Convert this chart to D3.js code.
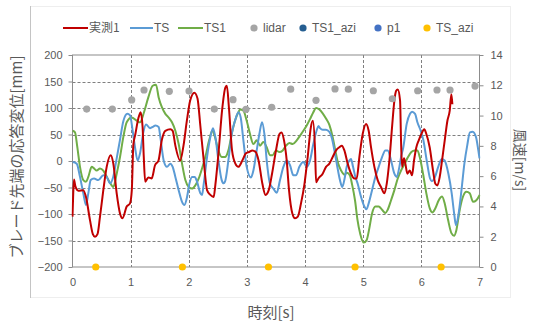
<!DOCTYPE html>
<html><head><meta charset="utf-8">
<script src="https://cdn.jsdelivr.net/npm/d3@7"></script>
<style>body{margin:0;background:#fff}svg{display:block}</style>
</head><body><svg id="c" width="533" height="323"></svg>
<script>
// ---- data ----
const seriesNames = ["実測1","TS","TS1","lidar","TS1_azi","p1","TS_azi"];
const xTicks = [0,1,2,3,4,5,6,7];
const yLeftTicks = [-200,-150,-100,-50,0,50,100,150,200];
const yRightTicks = [0,2,4,6,8,10,12,14];

const measT = [0,0.01,0.025,0.05,0.1,0.186,0.232,0.3,0.35,0.387,0.43,0.473,0.53,0.588,0.657,0.702,0.76,0.817,0.86,0.932,0.989,1.02,1.046,1.08,1.132,1.172,1.205,1.225,1.25,1.304,1.362,1.419,1.479,1.537,1.597,1.683,1.723,1.769,1.852,1.909,1.967,2.024,2.096,2.15,2.199,2.257,2.314,2.371,2.428,2.457,2.515,2.572,2.63,2.655,2.69,2.744,2.801,2.853,2.921,2.979,3.036,3.093,3.151,3.2,3.266,3.32,3.375,3.432,3.5,3.56,3.595,3.638,3.684,3.724,3.781,3.827,3.875,3.93,3.99,4.045,4.1,4.135,4.172,4.19,4.229,4.303,4.36,4.418,4.475,4.533,4.59,4.633,4.676,4.733,4.791,4.848,4.888,4.934,4.991,5.049,5.094,5.134,5.192,5.249,5.306,5.364,5.404,5.45,5.496,5.536,5.565,5.594,5.634,5.65,5.668,5.702,5.725,5.76,5.8,5.84,5.874,5.914,5.955,6.0,6.05,6.086,6.143,6.201,6.241,6.276,6.316,6.356,6.402,6.448,6.488,6.516,6.534];
const measV = [-105,-70,-35,-48,-56,-55,-68,-111,-138,-143,-138,-105,-55,-11,11,-5,-61,-99,-108,-86,-80,-55,30,50,80,92,65,10,-39,-31,-33,-8,1,40,57,60,57,29,1,29,76,114,129,118,66,1,-55,-64,-68,-45,20,95,139,142,101,20,-5,-11,1,14,17,20,17,1,-43,-64,-55,-24,20,51,54,39,1,-55,-99,-108,-105,-80,-43,7.5,64,76,20,-40,-33,-24,-11,-5,7.5,20,26,29,20,-5,-24,-33,-33,7.5,51,70,57,26,-11,-36,-49,-61,-43,1,64,114,132,135,114,40,-11,5,-5,-24,-18,-27,1,26,39,51,60,51,26,-18,-43,-46,-30,1,39,76,95,126,107];

const tsT = [0.003,0.072,0.129,0.186,0.232,0.272,0.313,0.37,0.444,0.53,0.588,0.645,0.7,0.76,0.817,0.874,0.943,0.989,1.035,1.075,1.12,1.161,1.218,1.264,1.333,1.39,1.425,1.482,1.511,1.568,1.625,1.683,1.723,1.769,1.826,1.884,1.924,1.97,2.01,2.056,2.102,2.142,2.199,2.228,2.257,2.314,2.371,2.416,2.457,2.51,2.566,2.6,2.623,2.681,2.738,2.795,2.855,2.893,2.939,2.996,3.07,3.111,3.168,3.214,3.26,3.3,3.34,3.397,3.455,3.512,3.569,3.627,3.684,3.741,3.799,3.844,3.902,3.971,4.028,4.085,4.142,4.2,4.23,4.257,4.303,4.36,4.418,4.464,4.504,4.55,4.6,4.64,4.68,4.716,4.762,4.79,4.825,4.865,4.905,4.963,5.02,5.055,5.094,5.152,5.209,5.266,5.324,5.381,5.421,5.479,5.536,5.576,5.622,5.651,5.69,5.748,5.805,5.84,5.892,5.932,5.989,6.035,6.092,6.15,6.18,6.235,6.29,6.35,6.4,6.465,6.522,6.565,6.595,6.64,6.69,6.74,6.79,6.835,6.883,6.94,6.98,7.0];
const tsV = [-2,-5,-30,-61,-83,-61,-36,-33,-36,-27,-30,-42,-30,5,40,75,89,86,57,26,1,14,54,69,62,65,67,64,45,1,-11,-5,-11,-30,-55,-77,-83,-68,-43,-30,-30,-39,-61,-64,-43,7.5,45,62,45,1,-36,-42,-39,1,51,76,92,82,39,-11,-31,-18,20,51,73,51,1,-43,-52,-60,-36,-11,1,-8,-27,-27,-11,-2,-11,1,32,58,66,62,59,59,55,42,20,-8,-36,-49,-33,-11,1,4,-11,-30,-43,-68,-86,-91,-80,-55,-30,-11,7.5,20,20,1,-24,-30,-11,7.5,26,70,89,93,89,73,57,39,1,-33,-38,-30,-11,4,1,-24,-61,-100,-121,-100,-55,-5,30,54,55,45,20,5];

const ts1T = [0.003,0.043,0.083,0.129,0.186,0.232,0.272,0.33,0.37,0.416,0.473,0.53,0.576,0.634,0.702,0.76,0.817,0.874,0.932,1.018,1.104,1.161,1.23,1.304,1.379,1.436,1.482,1.539,1.597,1.654,1.711,1.769,1.826,1.884,1.941,1.999,2.056,2.113,2.171,2.228,2.29,2.35,2.405,2.451,2.508,2.566,2.623,2.681,2.738,2.795,2.853,2.885,2.939,2.996,3.053,3.111,3.168,3.226,3.283,3.34,3.397,3.443,3.501,3.558,3.616,3.673,3.73,3.787,3.856,3.914,3.971,4.028,4.085,4.142,4.189,4.246,4.303,4.36,4.418,4.475,4.52,4.57,4.62,4.68,4.72,4.77,4.81,4.86,4.9,4.95,5.01,5.06,5.1,5.152,5.209,5.266,5.324,5.381,5.421,5.479,5.536,5.594,5.651,5.714,5.771,5.828,5.886,5.932,5.972,6.029,6.086,6.143,6.189,6.241,6.299,6.356,6.402,6.459,6.517,6.563,6.603,6.66,6.717,6.775,6.832,6.889,6.946,7.003];
const ts1V = [57,54,26,-11,-36,-39,-30,-11,-14,-18,-14,-18,-27,-39,-49,-24,7.5,45,73,82,76,73,92,120,142,144,120,101,89,82,73,57,32,-5,-36,-49,-52,-46,-33,-14,10,39,57,45,20,7.5,7.5,20,51,76,92,97,95,76,51,32,39,29,36,26,11,11,20,17,20,29,34,32,39,48,57,67,79,92,100,97,90,80,68,45,20,-5,-18,-26,-22,-27,-45,-75,-110,-138,-154,-149,-130,-99,-86,-86,-92,-98,-92,-74,-55,-33,-18,-5,7.5,17,20,20,7.5,-24,-61,-89,-97,-89,-74,-67,-80,-111,-136,-141,-130,-92,-67,-58,-61,-77,-74,-64];

const lidarT = [0.244,0.685,1.018,1.23,1.665,2.004,2.439,2.761,2.984,3.426,3.753,4.188,4.515,4.744,5.174,5.501,5.937,6.269,6.493,6.923];
const lidarV = [10.43,10.43,11.03,11.69,11.6,11.62,10.43,11.05,10.41,10.55,11.74,11.01,11.76,11.74,11.64,11.11,11.64,11.69,11.69,11.95];
const ts1AziT = [], ts1AziV = [];
const p1T = [], p1V = [];
const tsAziT = [0.40,1.89,3.37,4.86,6.34];
const tsAziV = [0,0,0,0,0];

// ---- layout ----
const svg = d3.select("#c");
const L = 72.5, R = 479.5, T = 55, B = 267;
const x = d3.scaleLinear().domain([0,7]).range([L,R]);
const yL = d3.scaleLinear().domain([-200,200]).range([B,T]);
const yR = d3.scaleLinear().domain([0,14]).range([B,T]);
const txt = "#595959", axisCol = "#8c8c8c", gridCol = "#7f7f7f";
const fnt = "'Liberation Sans', Arial, sans-serif";
const jp = "'Noto Sans CJK JP', sans-serif";

// chart-area frame
svg.append("rect").attr("x",30.5).attr("y",6.5).attr("width",480).attr("height",291)
  .attr("fill","#fff").attr("stroke","#eeeeee");
svg.append("line").attr("x1",30.5).attr("x2",30.5).attr("y1",6).attr("y2",298).attr("stroke","#c4c4c4");

// grid
const g = svg.append("g");
g.selectAll(".hg").data(yLeftTicks.filter(v=>v>-200&&v<200)).join("line")
  .attr("x1",L).attr("x2",R).attr("y1",d=>Math.round(yL(d))+0.5).attr("y2",d=>Math.round(yL(d))+0.5)
  .attr("stroke",gridCol).attr("stroke-dasharray","3,2");
g.selectAll(".vg").data(xTicks.filter(v=>v>0&&v<7)).join("line")
  .attr("y1",T).attr("y2",B).attr("x1",d=>Math.round(x(d))+0.5).attr("x2",d=>Math.round(x(d))+0.5)
  .attr("stroke",gridCol).attr("stroke-dasharray","3,2");
// border
svg.append("rect").attr("x",L).attr("y",T).attr("width",R-L).attr("height",B-T)
  .attr("fill","none").attr("stroke",axisCol);

// axes
const ax = (sel)=>{sel.select(".domain").remove(); sel.selectAll("line").attr("stroke",axisCol);
  sel.selectAll("text").attr("fill",txt).style("font-family",fnt).style("font-size","11px");};
svg.append("g").attr("transform",`translate(${L},0)`)
  .call(d3.axisLeft(yL).tickValues(yLeftTicks).tickSize(4).tickPadding(6)).call(ax);
svg.append("g").attr("transform",`translate(${R},0)`)
  .call(d3.axisRight(yR).tickValues(yRightTicks).tickSize(4).tickPadding(7)).call(ax);
svg.append("g").attr("transform",`translate(0,${B})`)
  .call(d3.axisBottom(x).tickValues(xTicks).tickFormat(d3.format("d")).tickSize(0).tickPadding(11)).call(ax);

// axis titles
svg.append("text").attr("transform","translate(22,157) rotate(-90)").attr("text-anchor","middle")
  .style("font-family",jp).style("font-size","15px").attr("fill",txt).text("ブレード先端の応答変位[mm]");
svg.append("text").attr("transform","translate(515,160) rotate(90)").attr("text-anchor","middle")
  .style("font-family",jp).style("font-size","14px").attr("fill",txt).text("風速[m/s]");
svg.append("text").attr("x",271).attr("y",318).attr("text-anchor","middle")
  .style("font-family",jp).style("font-size","15px").attr("fill",txt).text("時刻[s]");

// lines
const zip = (a,b)=>a.map((t,i)=>[t,b[i]]);
const line = d3.line().x(d=>x(d[0])).y(d=>yL(d[1])).curve(d3.curveMonotoneX);
const colors = {"実測1":"#c00000","TS":"#5b9bd5","TS1":"#70ad47","lidar":"#a5a5a5","TS1_azi":"#255e91","p1":"#4472c4","TS_azi":"#ffc000"};
svg.append("clipPath").attr("id","pc").append("rect").attr("x",L-1).attr("y",T-2).attr("width",R-L+2).attr("height",B-T+4);
const lg = svg.append("g").attr("clip-path","url(#pc)");
[["TS1",ts1T,ts1V],["TS",tsT,tsV],["実測1",measT,measV]].forEach(([n,t,v])=>{
  lg.append("path").datum(zip(t,v)).attr("d",line).attr("fill","none")
    .attr("stroke",colors[n]).attr("stroke-width",2).attr("stroke-linejoin","round");
});
// points on right axis
[["lidar",lidarT,lidarV],["TS1_azi",ts1AziT,ts1AziV],["p1",p1T,p1V],["TS_azi",tsAziT,tsAziV]].forEach(([n,t,v])=>{
  svg.append("g").selectAll("circle").data(zip(t,v)).join("circle")
    .attr("cx",d=>x(d[0])).attr("cy",d=>yR(d[1])).attr("r",3.6).attr("fill",colors[n]);
});

// legend
const legX = [63,130,178,254,303,378,427];
const legY = 28;
const leg = svg.append("g");
seriesNames.forEach((n,i)=>{
  const isLine = i<3;
  if(isLine){
    leg.append("line").attr("x1",legX[i]).attr("x2",legX[i]+(i===1?23:25)).attr("y1",legY).attr("y2",legY)
      .attr("stroke",colors[n]).attr("stroke-width",2);
  } else {
    leg.append("circle").attr("cx",legX[i]).attr("cy",legY).attr("r",3.6).attr("fill",colors[n]);
  }
  leg.append("text").attr("x",isLine?legX[i]+(i===1?24:26):legX[i]+9).attr("y",legY+4)
    .style("font-family",n==="実測1"?jp:fnt).style("font-size","12px").attr("fill",txt).text(n);
});
</script></body></html>
